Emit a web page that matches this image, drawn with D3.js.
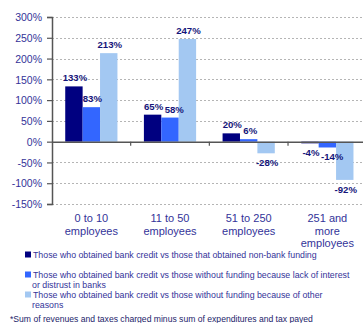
<!DOCTYPE html>
<html>
<head>
<meta charset="utf-8">
<script src="https://cdn.jsdelivr.net/npm/d3@7"></script>
<style>
  html, body { margin: 0; padding: 0; background: #fff; }
  svg { display: block; font-family: "Liberation Sans", Arial, sans-serif; }
</style>
</head>
<body>
<svg id="chart" width="363" height="323"></svg>
<script>
// Company size groups (wrapped axis labels)
const categories = ["0 to 10 employees", "11 to 50 employees", "51 to 250 employees", "251 and more employees"];
const categoryLines = [["0 to 10", "employees"], ["11 to 50", "employees"], ["51 to 250", "employees"], ["251 and", "more", "employees"]];

// Percentage gap per comparison group
const nonBank   = [133, 65, 20, -4];
const noInterest = [83, 58, 6, -14];
const otherReasons = [213, 247, -28, -92];

const seriesNames = [
  "Those who obtained bank credit vs those that obtained non-bank funding",
  "Those who obtained bank credit vs those without funding because lack of interest or distrust in banks",
  "Those who obtained bank credit vs those without funding because of other reasons"
];
const legendLines = [
  ["Those who obtained bank credit vs those that obtained non-bank funding"],
  ["Those who obtained bank credit vs those without funding because lack of interest", "or distrust in banks"],
  ["Those who obtained bank credit vs those without funding because of other", "reasons"]
];
const yTicks = [-150, -100, -50, 0, 50, 100, 150, 200, 250, 300];
const footnote = "*Sum of revenues and taxes charged minus sum of expenditures and tax payed";

const colors = ["#000080", "#3366ff", "#a3c8f2"];
const textColor = "#333399";
const labelColor = "#15157a";

const svg = d3.select("#chart");
const seriesValues = [nonBank, noInterest, otherReasons];

const y = d3.scaleLinear().domain([-150, 300]).range([204, 17]);
const x0 = d3.scaleBand().domain(categories).range([52, 366.7]);
const x1 = d3.scaleBand().domain(d3.range(3)).range([0, x0.bandwidth()]).paddingOuter(0.76);

// Gridlines
svg.append("g").selectAll("line")
  .data(yTicks.filter(t => t !== 0))
  .join("line")
  .attr("x1", 52).attr("x2", 366)
  .attr("y1", d => Math.round(y(d)) + 0.5).attr("y2", d => Math.round(y(d)) + 0.5)
  .attr("stroke", "#b5b5b5").attr("stroke-width", 1).attr("stroke-dasharray", "2,2");

// Bars
const groups = svg.append("g").selectAll("g")
  .data(categories)
  .join("g")
  .attr("transform", d => `translate(${x0(d)},0)`);

groups.each(function(cat, ci) {
  const g = d3.select(this);
  seriesValues.forEach((vals, si) => {
    const v = vals[ci];
    g.append("rect")
      .attr("x", x1(si))
      .attr("width", x1.bandwidth())
      .attr("y", Math.min(y(v), y(0)))
      .attr("height", Math.abs(y(v) - y(0)))
      .attr("fill", colors[si]);
  });
});

// Value labels; a label that collides with its left neighbour is nudged right
groups.each(function(cat, ci) {
  const g = d3.select(this);
  const placed = [];
  seriesValues.forEach((vals, si) => {
    const v = vals[ci];
    const cx = x1(si) + x1.bandwidth() / 2 + 1;
    const t = g.append("text")
      .attr("x", cx)
      .attr("y", v >= 0 ? y(v) - 5 : y(v) + 13)
      .attr("text-anchor", "middle")
      .attr("font-size", "9.6px")
      .attr("font-weight", "bold")
      .attr("fill", labelColor)
      .text(v + "%");
    let b = t.node().getBBox();
    placed.forEach(p => {
      const vOverlap = b.y < p.y + p.height && p.y < b.y + b.height;
      const shift = p.x + p.width + 1 - b.x;
      if (vOverlap && shift > 0) {
        t.attr("x", +t.attr("x") + shift);
        b = t.node().getBBox();
      }
    });
    placed.push(b);
  });
});

// Y axis
const yAxis = d3.axisLeft(y).tickValues(yTicks).tickSize(5).tickFormat(d => d + "%");
const ya = svg.append("g").attr("transform", "translate(52,0)").call(yAxis);
ya.select(".domain").attr("stroke", "#555").attr("stroke-width", 1.5);
ya.selectAll(".tick line").attr("stroke", "#555").attr("stroke-width", 1.2);
ya.selectAll(".tick text")
  .attr("font-size", "10.5px").attr("fill", textColor)
  .attr("font-family", "Liberation Sans, Arial, sans-serif")
  .attr("x", -10).attr("dy", "0.35em");

// Zero line with category ticks
const xa = svg.append("g").attr("transform", `translate(0,${y(0)})`)
  .call(d3.axisBottom(x0).tickSize(0).tickFormat(""));
xa.select(".domain").attr("stroke", "#555").attr("stroke-width", 1.5);
svg.append("g").selectAll("line")
  .data(categories.slice(1))
  .join("line")
  .attr("x1", d => x0(d)).attr("x2", d => x0(d))
  .attr("y1", y(0)).attr("y2", y(0) + 4)
  .attr("stroke", "#555").attr("stroke-width", 1.2);

// Category labels
categories.forEach((c, i) => {
  const t = svg.append("text")
    .attr("text-anchor", "middle")
    .attr("font-size", "11px")
    .attr("fill", textColor);
  categoryLines[i].forEach((line, li) => {
    t.append("tspan")
      .attr("x", x0(c) + x0.bandwidth() / 2)
      .attr("y", 222 + li * 12.5)
      .text(line);
  });
});

// Legend
const legendY = [255, 275, 295];
legendLines.forEach((lines, i) => {
  svg.append("rect")
    .attr("x", 25).attr("y", legendY[i] - 3.5)
    .attr("width", 6).attr("height", 6)
    .attr("fill", colors[i]);
  const t = svg.append("text")
    .attr("font-size", "8.8px")
    .attr("fill", textColor);
  lines.forEach((line, li) => {
    t.append("tspan")
      .attr("x", li === 0 ? 33 : 32)
      .attr("y", legendY[i] + 3 + li * 10)
      .text(line);
  });
});

// Footnote
svg.append("text")
  .attr("x", 10).attr("y", 322)
  .attr("font-size", "8.6px")
  .attr("fill", "#1c1c6a")
  .text(footnote);
</script>
</body>
</html>
